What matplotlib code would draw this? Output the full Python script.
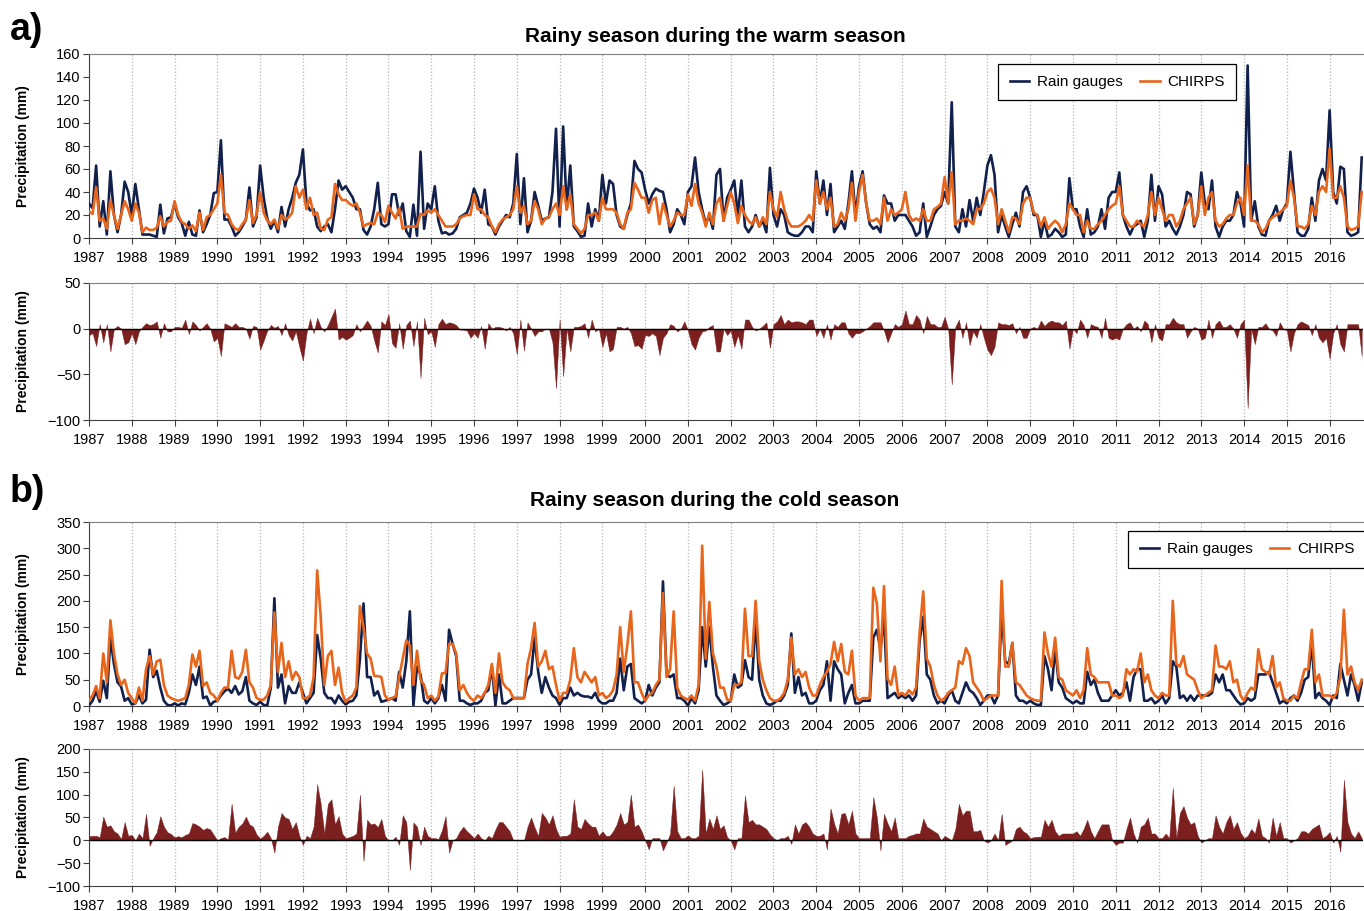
import numpy as np
import matplotlib.pyplot as plt

plt.rcParams['font.family'] = ['Liberation Sans', 'DejaVu Sans']

# monthly values, Jan 1987 - Oct 2016 (one row per year)
gauges_warm = [
    30, 26, 63, 10, 32, 3, 58, 20, 5, 20, 49, 40,
    20, 47, 25, 3, 3, 3, 2, 1, 29, 4, 17, 18,
    30, 18, 13, 2, 14, 3, 2, 24, 5, 12, 20, 39,
    40, 85, 16, 16, 10, 2, 5, 10, 16, 44, 10, 18,
    63, 35, 17, 8, 15, 5, 27, 10, 25, 35, 48, 55,
    77, 30, 24, 25, 10, 6, 10, 12, 5, 25, 50, 42,
    45, 40, 35, 25, 25, 7, 3, 10, 25, 48, 12, 10,
    12, 38, 38, 20, 30, 6, 1, 29, 2, 75, 8, 30,
    25, 45, 15, 4, 5, 3, 4, 8, 18, 20, 22, 30,
    43, 35, 22, 42, 12, 10, 3, 10, 15, 20, 18, 30,
    73, 12, 52, 5, 15, 40, 28, 15, 17, 18, 40, 95,
    10, 97, 25, 63, 10, 6, 1, 2, 30, 10, 25, 15,
    55, 30, 50, 47, 20, 10, 8, 20, 30, 67, 60, 57,
    42, 30, 38, 43, 41, 40, 25, 5, 12, 25, 20, 12,
    40, 45, 70, 40, 25, 12, 20, 8, 55, 60, 15, 35,
    42, 50, 20, 50, 10, 5, 10, 20, 10, 15, 5, 61,
    20, 10, 25, 20, 5, 3, 2, 2, 5, 10, 10, 5,
    58, 30, 50, 20, 47, 5, 10, 15, 8, 30, 58, 20,
    45, 58, 30, 12, 8, 10, 5, 37, 30, 30, 15, 20,
    20, 20, 15, 10, 2, 5, 30, 1, 10, 20, 25, 28,
    40, 30, 118, 10, 5, 25, 10, 33, 15, 35, 20, 40,
    63, 72, 55, 5, 20, 10, 1, 12, 22, 10, 40, 45,
    35, 20, 20, 1, 15, 1, 3, 8, 5, 1, 3, 52,
    25, 25, 10, 1, 25, 3, 5, 10, 25, 8, 35, 40,
    40, 57, 20, 10, 3, 10, 12, 15, 1, 15, 55, 15,
    45, 38, 10, 15, 8, 3, 10, 20, 40, 38, 10, 20,
    57, 30, 25, 50, 10, 1, 10, 15, 15, 20, 40, 30,
    10, 150, 15, 32, 10, 3, 2, 15, 20, 28, 15, 25,
    30, 75, 40, 5, 2, 2, 8, 35, 15, 50, 60, 50,
    111, 40, 30, 62, 60, 5, 2, 3, 5, 70,
]
chirps_warm = [
    23, 21, 44, 15, 17, 8, 33, 20, 8, 20, 32, 25,
    15, 30, 22, 5, 9, 7, 7, 9, 19, 10, 14, 15,
    32, 20, 14, 12, 8, 11, 6, 22, 7, 18, 20, 25,
    30, 55, 22, 20, 12, 8, 7, 12, 16, 33, 13, 20,
    40, 22, 15, 12, 16, 8, 20, 16, 18, 22, 45, 35,
    42, 25, 35, 20, 22, 8, 7, 16, 18, 47, 38, 33,
    33, 30, 28, 30, 22, 10, 12, 13, 12, 22, 20, 14,
    28, 22, 17, 26, 8, 10, 10, 10, 10, 21, 20, 24,
    22, 25, 20, 15, 10, 10, 10, 12, 17, 19, 20, 20,
    38, 25, 25, 20, 18, 10, 5, 12, 16, 18, 20, 25,
    45, 22, 28, 12, 15, 32, 25, 12, 17, 18, 25, 30,
    20, 45, 25, 38, 12, 8, 4, 8, 20, 20, 22, 15,
    35, 25, 25, 25, 22, 12, 8, 22, 25, 48, 42, 35,
    35, 22, 33, 35, 12, 30, 20, 10, 15, 22, 20, 20,
    38, 28, 47, 30, 22, 10, 22, 12, 30, 35, 15, 28,
    40, 30, 13, 28, 20, 15, 12, 18, 10, 18, 12, 40,
    25, 18, 40, 25, 15, 10, 10, 10, 12, 15, 20, 15,
    50, 30, 40, 25, 35, 10, 12, 22, 15, 25, 48, 15,
    40, 55, 30, 15, 15, 17, 12, 35, 15, 25, 20, 22,
    25, 40, 20, 15, 17, 15, 25, 15, 15, 25, 27, 30,
    53, 30, 57, 12, 15, 15, 17, 15, 12, 25, 25, 30,
    40, 43, 35, 12, 25, 15, 5, 18, 17, 12, 30, 35,
    35, 22, 20, 10, 18, 8, 12, 15, 12, 5, 12, 30,
    25, 20, 20, 5, 15, 8, 8, 12, 15, 20, 25, 28,
    30, 45, 20, 15, 10, 10, 15, 12, 10, 20, 40, 20,
    35, 25, 15, 20, 20, 10, 15, 25, 30, 35, 12, 20,
    45, 20, 35, 40, 15, 10, 12, 17, 20, 20, 30, 35,
    20, 63, 15, 15, 12, 5, 8, 15, 18, 20, 22, 25,
    28, 50, 35, 10, 10, 8, 12, 28, 20, 40, 45, 40,
    78, 35, 35, 45, 35, 10, 7, 8, 10, 40,
]
gauges_cold = [
    1, 10, 28, 8, 48, 15, 130, 80, 45, 37, 10, 15,
    3, 5, 20, 5, 12, 107, 55, 67, 35, 10, 2, 1,
    5, 1, 5, 3, 25, 60, 40, 75, 15, 18, 1, 8,
    10, 20, 28, 33, 25, 38, 22, 28, 55, 10, 5, 2,
    8, 2, 1, 35, 205, 35, 60, 5, 38, 25, 25, 45,
    25, 5, 15, 25, 135, 90, 25, 15, 15, 5, 20, 10,
    3, 8, 10, 20, 90, 195, 55, 55, 20, 28, 8, 10,
    12, 15, 10, 65, 35, 85, 180, 1, 75, 60, 10, 5,
    15, 5, 15, 40, 10, 145, 118, 95, 10, 10, 5, 2,
    5, 5, 10, 25, 30, 75, 1, 60, 5, 5, 10, 15,
    15, 15, 15, 50, 60, 130, 65, 25, 55, 35, 20, 15,
    2, 15, 15, 35, 20, 25, 20, 18, 18, 15, 25, 10,
    5, 5, 10, 10, 25, 90, 30, 75, 80, 15, 10, 5,
    10, 40, 20, 35, 45, 237, 60, 55, 60, 15, 15, 10,
    1, 15, 5, 30, 150, 75, 150, 75, 20, 10, 2, 5,
    10, 60, 35, 40, 87, 55, 50, 165, 50, 20, 5, 2,
    5, 10, 10, 20, 40, 138, 25, 55, 20, 25, 5, 5,
    10, 30, 40, 85, 10, 85, 70, 60, 5, 25, 40, 5,
    5, 10, 10, 10, 130, 145, 107, 170, 15, 20, 25, 15,
    20, 15, 20, 10, 20, 125, 170, 60, 50, 20, 5, 10,
    5, 20, 30, 10, 5, 25, 45, 30, 25, 15, 2, 10,
    20, 20, 5, 20, 180, 85, 80, 120, 20, 10, 10, 5,
    10, 5, 2, 2, 95, 70, 30, 110, 45, 35, 15, 10,
    5, 10, 5, 5, 65, 40, 50, 25, 10, 10, 10, 20,
    30, 20, 25, 45, 10, 55, 70, 70, 10, 10, 15, 5,
    10, 20, 5, 15, 85, 75, 15, 20, 10, 20, 10, 20,
    20, 20, 20, 25, 60, 45, 60, 30, 30, 20, 10, 3,
    5, 15, 10, 15, 60, 60, 60, 65, 45, 25, 5, 10,
    5, 15, 20, 10, 25, 50, 55, 120, 15, 25, 15, 10,
    2, 20, 15, 80, 50, 20, 60, 40, 10, 45,
]
chirps_cold = [
    10, 20, 38, 15, 100, 45, 163, 100, 60, 40, 50, 25,
    15, 5, 35, 10, 70, 95, 60, 85, 88, 40, 20, 15,
    12, 10, 12, 15, 40, 98, 75, 105, 38, 45, 25, 20,
    10, 25, 35, 35, 105, 55, 52, 65, 107, 45, 35, 15,
    12, 12, 20, 40, 178, 65, 120, 55, 85, 50, 65, 55,
    15, 15, 20, 55, 258, 170, 40, 95, 105, 40, 73, 25,
    8, 15, 20, 35, 190, 150, 100, 90, 57, 57, 55, 20,
    12, 15, 18, 55, 90, 125, 115, 40, 105, 50, 40, 15,
    20, 10, 18, 62, 63, 118, 118, 100, 30, 40, 25, 15,
    10, 20, 15, 25, 40, 80, 25, 100, 45, 35, 30, 15,
    15, 15, 15, 80, 110, 158, 75, 85, 105, 70, 75, 40,
    10, 25, 25, 50, 110, 55, 45, 65, 55, 45, 55, 20,
    25, 15, 20, 30, 60, 150, 65, 115, 180, 45, 45, 25,
    10, 20, 25, 40, 50, 215, 55, 70, 180, 35, 20, 15,
    12, 20, 10, 40, 305, 90, 198, 100, 75, 35, 35, 12,
    10, 40, 40, 45, 185, 95, 95, 200, 85, 50, 30, 15,
    10, 10, 15, 25, 50, 130, 60, 70, 55, 65, 35, 20,
    20, 40, 55, 65, 80, 122, 85, 118, 65, 60, 105, 20,
    10, 15, 15, 15, 225, 195, 85, 228, 52, 40, 75, 20,
    25, 20, 30, 22, 35, 140, 218, 90, 75, 40, 20, 10,
    15, 25, 30, 35, 85, 80, 110, 95, 45, 35, 25, 10,
    15, 20, 20, 20, 238, 75, 75, 120, 45, 40, 30, 20,
    15, 12, 10, 10, 140, 100, 75, 130, 55, 50, 30, 25,
    20, 30, 15, 30, 110, 60, 55, 45, 45, 45, 45, 20,
    20, 15, 20, 70, 60, 70, 65, 100, 45, 60, 30, 20,
    15, 25, 20, 20, 200, 80, 75, 95, 60, 55, 50, 30,
    15, 20, 25, 30, 115, 75, 75, 70, 85, 45, 50, 20,
    10, 25, 35, 30, 108, 70, 65, 60, 95, 35, 45, 15,
    10, 10, 20, 15, 45, 70, 70, 145, 45, 60, 20, 20,
    20, 15, 25, 55, 183, 60, 75, 45, 30, 50,
]
years = list(range(1987, 2017))

NAVY = '#11204c'
ORANGE = '#e8651c'
DARKRED = '#7b1f1f'

W, H = 1364, 911
fig = plt.figure(figsize=(W / 100, H / 100), dpi=100)


def px_axes(left, top, right, bottom):
    return fig.add_axes([left / W, 1 - bottom / H, (right - left) / W, (bottom - top) / H])


def style(ax, ymin, ymax, ystep):
    ax.set_xlim(1987, 2016.78)
    ax.set_ylim(ymin, ymax)
    ax.set_xticks(years)
    ax.set_xticklabels([str(y) for y in years])
    ax.set_yticks(np.arange(ymin, ymax + 1, ystep))
    ax.grid(axis='x', color='#b5b5b5', linestyle=':', linewidth=0.9)
    ax.set_axisbelow(True)
    ax.spines['right'].set_visible(False)
    ax.spines['top'].set_color('#808080')
    ax.spines['left'].set_color('#404040')
    ax.spines['bottom'].set_color('#404040')
    ax.tick_params(labelsize=10.5, length=4, color='#404040', pad=2)
    ax.tick_params(axis='x', pad=5)
    ax.set_ylabel('Precipitation (mm)', fontsize=10, fontweight='bold')
    ax.yaxis.set_label_coords((30 - 89) / 1274, 0.5)


def draw_pair(top_ax, bot_ax, g, c, lims_top, lims_bot, legend_xy):
    g = np.array(g, dtype=float)
    c = np.array(c, dtype=float)
    t = 1987 + np.arange(len(g)) / 12
    top_ax.plot(t, g, color=NAVY, lw=1.9, label='Rain gauges', zorder=3)
    top_ax.plot(t, c, color=ORANGE, lw=1.9, label='CHIRPS', zorder=4)
    style(top_ax, *lims_top)
    leg = top_ax.legend(loc='center', bbox_to_anchor=legend_xy, ncol=2, fontsize=11,
                        fancybox=False, edgecolor='black', framealpha=1,
                        handlelength=1.3, handletextpad=0.5, columnspacing=1.1,
                        borderpad=0.75)
    leg.get_frame().set_linewidth(0.9)
    d = c - g
    bot_ax.fill_between(t, 0, d, color=DARKRED, lw=0.3, zorder=3)
    bot_ax.axhline(0, color='black', lw=1, zorder=4)
    style(bot_ax, *lims_bot)


ax1 = px_axes(89, 54, 1363, 238)
ax2 = px_axes(89, 283, 1363, 420)
ax3 = px_axes(89, 522, 1363, 706)
ax4 = px_axes(89, 749, 1363, 886)

draw_pair(ax1, ax2, gauges_warm, chirps_warm, (0, 160, 20), (-100, 50, 50), (0.807, 0.848))
draw_pair(ax3, ax4, gauges_cold, chirps_cold, (0, 350, 50), (-100, 200, 50), (0.909, 0.853))

fig.text(715 / W, 1 - 36 / H, 'Rainy season during the warm season', ha='center', va='center',
         fontsize=15, fontweight='bold')
fig.text(715 / W, 1 - 501 / H, 'Rainy season during the cold season', ha='center', va='center',
         fontsize=15, fontweight='bold')
fig.text(10 / W, 1 - 30 / H, 'a)', ha='left', va='center', fontsize=27, fontweight='bold')
fig.text(10 / W, 1 - 492 / H, 'b)', ha='left', va='center', fontsize=27, fontweight='bold')

fig.savefig('out.png', dpi=100)
